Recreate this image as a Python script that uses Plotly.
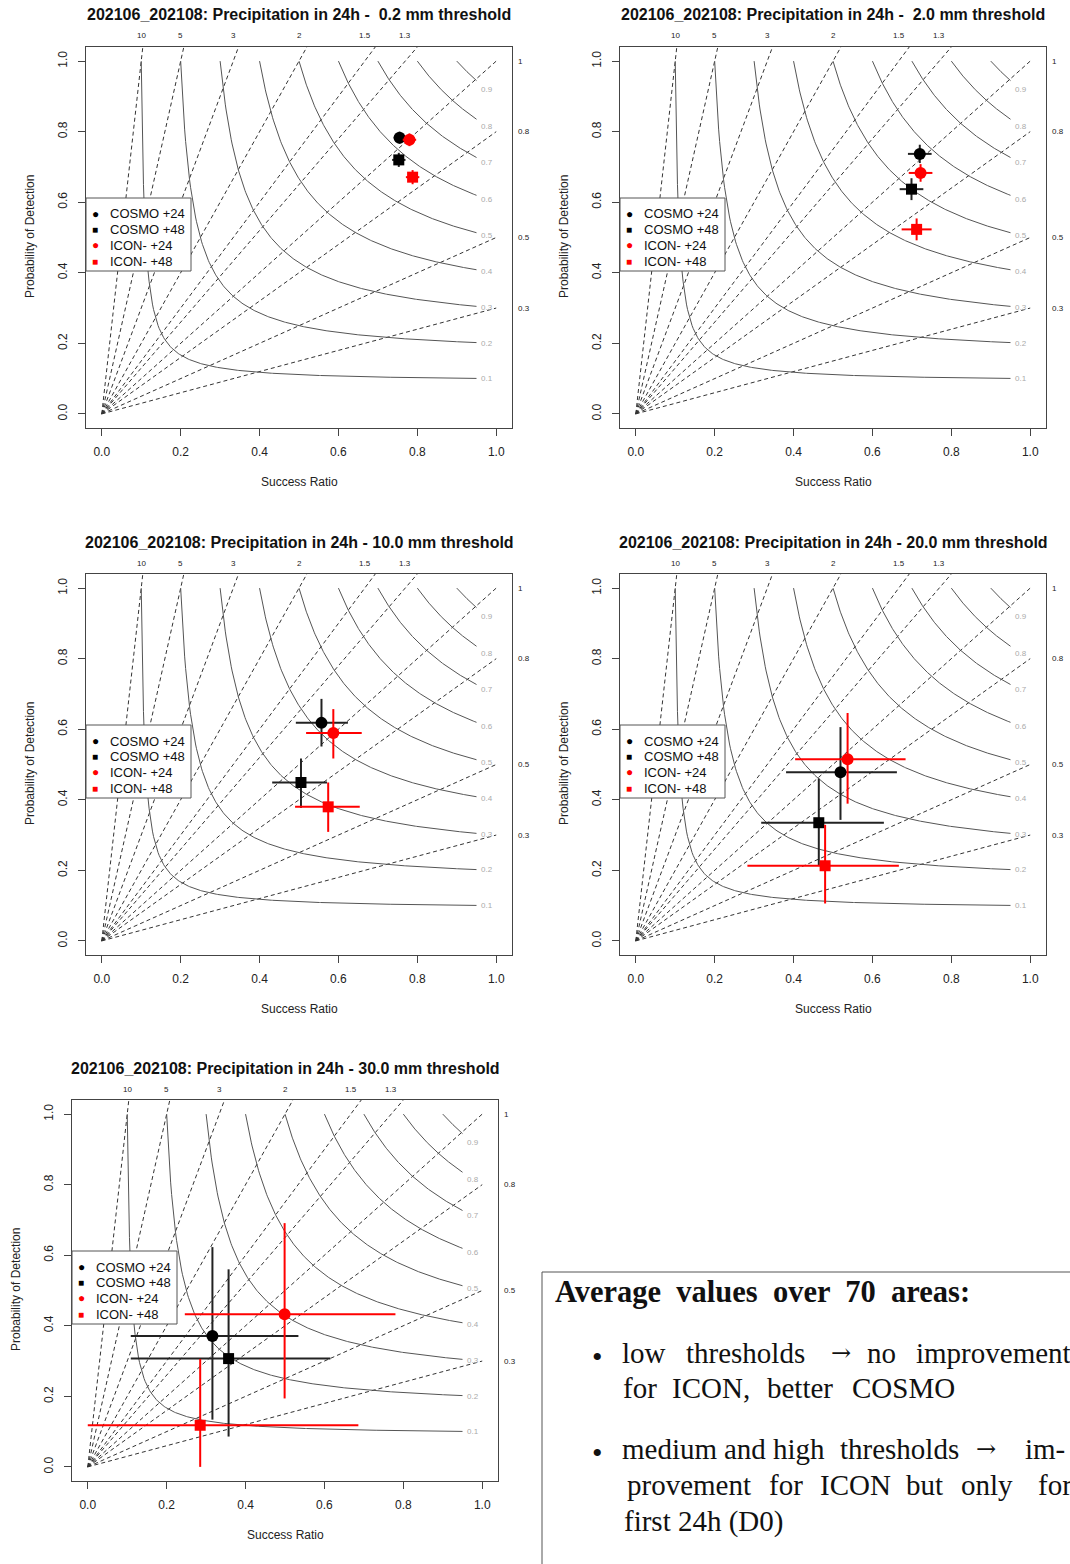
import numpy as np
import plotly.graph_objects as go

W, H = 1070, 1564

# ---- data: thresholds (mm / 24h) and scores per model run ----
thresholds = [0.2, 2.0, 10.0, 20.0, 30.0]
model_names = ["COSMO +24", "COSMO +48", "ICON- +24", "ICON- +48"]

cosmo24_sr = [0.755, 0.720, 0.557, 0.519, 0.316]
cosmo24_sr_lo = [0.740, 0.690, 0.492, 0.381, 0.109]
cosmo24_sr_hi = [0.770, 0.750, 0.624, 0.662, 0.534]
cosmo24_pod = [0.783, 0.737, 0.618, 0.478, 0.371]
cosmo24_pod_lo = [0.766, 0.711, 0.551, 0.343, 0.134]
cosmo24_pod_hi = [0.800, 0.763, 0.686, 0.606, 0.623]

cosmo48_sr = [0.753, 0.699, 0.505, 0.464, 0.357]
cosmo48_sr_lo = [0.736, 0.669, 0.432, 0.318, 0.109]
cosmo48_sr_hi = [0.770, 0.729, 0.571, 0.629, 0.615]
cosmo48_pod = [0.720, 0.637, 0.449, 0.335, 0.307]
cosmo48_pod_lo = [0.700, 0.606, 0.377, 0.214, 0.086]
cosmo48_pod_hi = [0.740, 0.668, 0.517, 0.460, 0.560]

icon24_sr = [0.780, 0.722, 0.587, 0.537, 0.499]
icon24_sr_lo = [0.763, 0.692, 0.518, 0.404, 0.246]
icon24_sr_hi = [0.797, 0.752, 0.659, 0.684, 0.780]
icon24_pod = [0.777, 0.683, 0.589, 0.515, 0.433]
icon24_pod_lo = [0.759, 0.658, 0.517, 0.389, 0.194]
icon24_pod_hi = [0.795, 0.708, 0.657, 0.646, 0.691]

icon48_sr = [0.788, 0.712, 0.574, 0.480, 0.285]
icon48_sr_lo = [0.771, 0.674, 0.490, 0.283, 0.000]
icon48_sr_hi = [0.805, 0.750, 0.654, 0.667, 0.686]
icon48_pod = [0.671, 0.523, 0.380, 0.213, 0.118]
icon48_pod_lo = [0.651, 0.492, 0.309, 0.106, 0.000]
icon48_pod_hi = [0.691, 0.554, 0.449, 0.329, 0.306]

# reference lines of the performance diagram
bias_levels = [0.3, 0.5, 0.8, 1, 1.3, 1.5, 2, 3, 5, 10]
bias_top = ["1.3", "1.5", "2", "3", "5", "10"]
bias_right = ["0.3", "0.5", "0.8", "1"]
csi_levels = [0.1, 0.2, 0.3, 0.4, 0.5, 0.6, 0.7, 0.8, 0.9]
tick_vals = [0.0, 0.2, 0.4, 0.6, 0.8, 1.0]

runs = [
    ("COSMO +24", "#000000", "circle", 12, "#222222",
     cosmo24_sr, cosmo24_sr_lo, cosmo24_sr_hi, cosmo24_pod, cosmo24_pod_lo, cosmo24_pod_hi),
    ("COSMO +48", "#000000", "square", 11, "#222222",
     cosmo48_sr, cosmo48_sr_lo, cosmo48_sr_hi, cosmo48_pod, cosmo48_pod_lo, cosmo48_pod_hi),
    ("ICON- +24", "#ff0000", "circle", 12, "#ff0000",
     icon24_sr, icon24_sr_lo, icon24_sr_hi, icon24_pod, icon24_pod_lo, icon24_pod_hi),
    ("ICON- +48", "#ff0000", "square", 11, "#ff0000",
     icon48_sr, icon48_sr_lo, icon48_sr_hi, icon48_pod, icon48_pod_lo, icon48_pod_hi),
]

# summary text, typeset word by word as a justified paragraph
summary_head = "Average values over 70 areas:"
summary_lines = [
    ["low", "thresholds", "\u2192", "no", "improvement"],
    ["for", "ICON,", "better", "COSMO"],
    ["medium", "and", "high", "thresholds", "\u2192", "im-"],
    ["provement", "for", "ICON", "but", "only", "for"],
    ["first 24h (D0)"],
]
# layout of the summary: word centres and line centres (pixels)
summary_word_cx = [
    [644, 745, 841, 881, 993],
    [640, 711, 800, 903],
    [669, 745, 799, 899, 986, 1045],
    [689, 786, 855, 924, 987, 1055],
    [703],
]
summary_line_y = [1353, 1388, 1449, 1485, 1521]
bullet_y = [1356, 1452]

# panel frames in pixels (left, top); every frame is 426 x 381
panels = [(86, 47), (620, 47), (86, 574), (620, 574), (72, 1100)]
PW, PH = 426, 381
RNG = [-0.04, 1.04]

FONT = "Liberation Sans, Arial, Helvetica, sans-serif"
SERIF = "Liberation Serif, Times New Roman, serif"
ARROW = "DejaVu Serif, serif"


def px(x):
    return x / W


def py(y):
    return 1 - y / H


def note(x, y, text, size, color="#111", xanchor="center", family=FONT,
         xref="paper", yref="paper", **kw):
    return dict(x=x, y=y, xref=xref, yref=yref, text=text, showarrow=False,
                xanchor=xanchor, yanchor="middle",
                font=dict(family=family, size=size, color=color), **kw)


fig = go.Figure()
annotations = []
shapes = []

for i, (thr, (left, top)) in enumerate(zip(thresholds, panels)):
    n = "" if i == 0 else str(i + 1)
    xa, ya = "x" + n, "y" + n

    fig.layout["xaxis" + n] = dict(
        domain=[px(left), px(left + PW)], range=RNG, anchor=ya,
        showgrid=False, zeroline=False, showline=True, mirror=True,
        linecolor="#444", linewidth=1, ticks="outside", ticklen=7,
        tickcolor="#444", tickvals=tick_vals,
        ticktext=["%.1f" % v for v in tick_vals],
        tickfont=dict(family=FONT, size=12, color="#222"),
        ticklabelstandoff=6, fixedrange=True,
    )
    fig.layout["yaxis" + n] = dict(
        domain=[py(top + PH), py(top)], range=RNG, anchor=xa,
        showgrid=False, zeroline=False, showline=True, mirror=True,
        linecolor="#444", linewidth=1, ticks="outside", ticklen=7,
        tickcolor="#444", tickvals=tick_vals,
        ticktext=["%.1f" % v for v in tick_vals], tickangle=-90,
        tickfont=dict(family=FONT, size=12, color="#222"),
        ticklabelstandoff=6, fixedrange=True,
    )

    # lines of equal frequency bias
    sr_line = np.array([0.0, 1.0])
    for b in bias_levels:
        fig.add_trace(go.Scatter(
            x=sr_line, y=sr_line * b, mode="lines", xaxis=xa, yaxis=ya,
            line=dict(color="#333", width=1, dash="4px,3px"),
            hoverinfo="skip", showlegend=False))

    # contours of equal critical success index
    for c in csi_levels:
        s = np.linspace(c, 0.95, 300)
        p = 1.0 / (1.0 / c + 1.0 - 1.0 / s)
        fig.add_trace(go.Scatter(
            x=s, y=p, mode="lines", xaxis=xa, yaxis=ya,
            line=dict(color="#555", width=1),
            hoverinfo="skip", showlegend=False))
        s_lab = 0.977
        annotations.append(note(
            s_lab, 1.0 / (1.0 / c + 1.0 - 1.0 / s_lab), "%.1f" % c, 8,
            color="#aaa", xref=xa, yref=ya))

    # scores with their uncertainty ranges
    for (name, col, sym, size, ecol, s, slo, shi, p, plo, phi) in runs:
        fig.add_trace(go.Scatter(
            x=[s[i]], y=[p[i]], mode="markers", xaxis=xa, yaxis=ya, name=name,
            marker=dict(color=col, symbol=sym, size=size),
            error_x=dict(type="data", symmetric=False,
                         array=[shi[i] - s[i]], arrayminus=[s[i] - slo[i]],
                         width=0, thickness=2, color=ecol),
            error_y=dict(type="data", symmetric=False,
                         array=[phi[i] - p[i]], arrayminus=[p[i] - plo[i]],
                         width=0, thickness=2, color=ecol),
            showlegend=False))

    # bias labels along the top and right edges
    for lab in bias_top:
        annotations.append(note(1.0 / float(lab), py(top - 11), lab, 8,
                                color="#222", xref=xa))
    for lab in bias_right:
        annotations.append(note(px(left + PW + 4), float(lab), lab, 8,
                                color="#222", xanchor="left", yref=ya))

    # titles
    thr_txt = "%4.1f" % thr
    if thr < 10:
        thr_txt = "\u00a0" + thr_txt.strip()
    annotations.append(note(
        px(left + PW / 2), py(top - 32),
        "<b>202106_202108: Precipitation in 24h - %s mm threshold</b>" % thr_txt,
        16))
    annotations.append(note(px(left + PW / 2), py(top + 435), "Success Ratio",
                            12, color="#222"))
    annotations.append(note(px(left - 56), py(top + 190),
                            "Probability of Detection", 12, color="#222",
                            textangle=-90))

    # legend box
    shapes.append(dict(
        type="rect", xref="paper", yref="paper",
        x0=px(left), x1=px(left + 105), y0=py(top + 151), y1=py(top + 224),
        line=dict(color="#555", width=1), fillcolor="white", layer="above"))
    for k, (name, col, sym, size, *_rest) in enumerate(runs):
        yy = top + 167 + k * 15.7
        annotations.append(note(
            px(left + 9), py(yy), "\u25cf" if sym == "circle" else "\u25a0",
            12 if sym == "circle" else 10, color=col))
        annotations.append(note(px(left + 22), py(yy), name, 13,
                                xanchor="left"))

# summary text box
shapes.append(dict(
    type="rect", xref="paper", yref="paper",
    x0=px(542), x1=px(1085), y0=py(1580), y1=py(1272),
    line=dict(color="#555", width=1), fillcolor="rgba(0,0,0,0)"))

annotations.append(note(
    px(553), py(1292),
    "<b>%s</b>" % summary_head.replace(" ", " \u2005"),
    30.5, xanchor="left", family=SERIF))
for by in bullet_y:
    annotations.append(note(px(597), py(by), "\u2022", 30, family=SERIF))
for words, xs, ly in zip(summary_lines, summary_word_cx, summary_line_y):
    for w_txt, wx in zip(words, xs):
        is_arrow = w_txt == "\u2192"
        annotations.append(note(px(wx), py(ly), w_txt,
                                24 if is_arrow else 29,
                                family=ARROW if is_arrow else SERIF))

fig.update_layout(
    width=W, height=H, margin=dict(l=0, r=0, t=0, b=0),
    paper_bgcolor="white", plot_bgcolor="white",
    showlegend=False, annotations=annotations, shapes=shapes,
)

fig.write_html("out.html")
